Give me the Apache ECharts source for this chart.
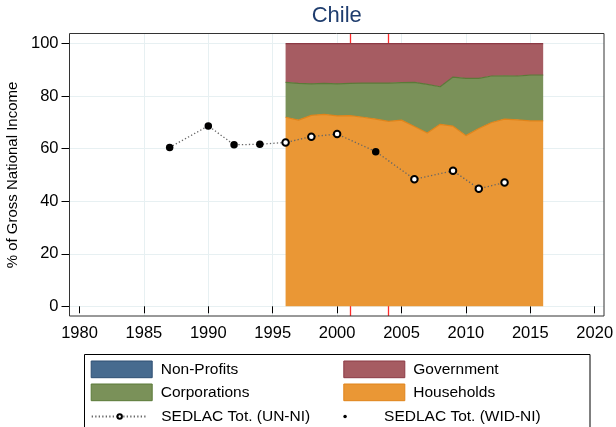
<!DOCTYPE html>
<html>
<head>
<meta charset="utf-8">
<script src="https://cdn.jsdelivr.net/npm/echarts@6/dist/echarts.min.js"></script>
<style>
  html, body { margin: 0; padding: 0; background: #fff; }
  #chart { width: 616px; height: 427px; }
</style>
</head>
<body>
<div id="chart"></div>
<script>
// Sector shares of gross national income, Chile (%)
const years = [1996, 1997, 1998, 1999, 2000, 2001, 2002, 2003, 2004, 2005, 2006,
               2007, 2008, 2009, 2010, 2011, 2012, 2013, 2014, 2015, 2016];
const households   = [72.0, 70.9, 72.7, 73.1, 72.5, 72.6, 72.0, 71.3, 70.4, 70.9, 68.5,
                      66.0, 69.3, 68.6, 65.0, 67.7, 70.0, 71.3, 71.0, 70.6, 70.6];
const nonProfits   = [0, 0, 0, 0, 0, 0, 0, 0, 0, 0, 0,
                      0, 0, 0, 0, 0, 0, 0, 0, 0, 0];
const corporations = [13.3, 14.0, 12.0, 11.8, 12.2, 12.3, 13.0, 13.7, 14.6, 14.3, 16.8,
                      18.5, 14.3, 18.7, 21.8, 19.1, 17.7, 16.5, 16.7, 17.4, 17.4];
const government   = [14.7, 15.1, 15.3, 15.1, 15.3, 15.1, 15.0, 15.0, 15.0, 14.8, 14.7,
                      15.5, 16.4, 12.7, 13.2, 13.2, 12.3, 12.2, 12.3, 12.0, 12.0];

// SEDLAC survey totals and the national-income source used for each year
const sedlacYears  = [1987, 1990, 1992, 1994, 1996, 1998, 2000, 2003, 2006, 2009, 2011, 2013];
const sedlacTotal  = [60.5, 68.7, 61.5, 61.7, 62.4, 64.6, 65.6, 58.9, 48.4, 51.6, 44.8, 47.1];
const sedlacSource = ['WID', 'WID', 'WID', 'WID', 'UN', 'UN', 'UN', 'WID', 'UN', 'UN', 'UN', 'UN'];

// Marked years (vertical reference lines)
const refYears = [2001, 2004];

// Axis ticks
const xMin = 1980, xMax = 2020, xStep = 5;
const yMin = 0, yMax = 100, yStep = 20;

const FONT = '"Liberation Sans", Arial, Helvetica, sans-serif';

const colors = {
  nonProfits:   { fill: '#476b8f', edge: '#2e4f73' },
  government:   { fill: '#a65c62', edge: '#8c3a45' },
  corporations: { fill: '#7a9159', edge: '#5b7a38' },
  households:   { fill: '#ea9735', edge: '#e0841a' }
};

// Rows are [share, year] so the share dimension is the one that gets stacked
function areaSeries(name, values, c, hideLine) {
  return {
    name: name,
    type: 'line',
    stack: 'sectors',
    xAxisIndex: 0,
    yAxisIndex: 0,
    dimensions: ['share', 'year'],
    encode: { x: 'year', y: 'share' },
    data: years.map((y, i) => [values[i], y]),
    symbol: 'none',
    color: c.fill,
    lineStyle: { color: c.edge, width: 1.2, opacity: hideLine ? 0 : 1 },
    areaStyle: { color: c.fill, opacity: 1 },
    itemStyle: { color: c.fill, borderColor: c.edge, borderWidth: 1 },
    z: 3
  };
}

const chart = echarts.init(document.getElementById('chart'), null, { renderer: 'canvas' });

const legendBase = {
  orient: 'vertical',
  padding: 0,
  selectedMode: false,
  textStyle: { fontSize: 15.5, color: '#000', fontFamily: FONT, padding: [0, 0, 0, 3.5] }
};

chart.setOption({
  animation: false,
  backgroundColor: '#fff',
  grid: [
    { left: 79.5, right: 21.3, top: 43.7, bottom: 120.7, outerBoundsMode: 'none' },
    { left: 69.5, right: 12, top: 43.7, bottom: 120.7, outerBoundsMode: 'none' },
    { left: 79.5, right: 21.3, top: 33.5, bottom: 111, outerBoundsMode: 'none' }
  ],
  xAxis: [
    {
      gridIndex: 0, type: 'value', min: xMin, max: xMax, interval: xStep, offset: 9.7,
      axisLine: { show: false },
      axisTick: { show: true, length: 7, lineStyle: { color: '#000', width: 1 } },
      axisLabel: { show: true, fontSize: 16.5, color: '#000', fontFamily: FONT, margin: 9,
                   showMinLabel: true, showMaxLabel: true, hideOverlap: false,
                   formatter: v => String(v) },
      splitLine: { show: false }
    },
    { gridIndex: 1, type: 'value', min: 0, max: 1, show: false },
    {
      gridIndex: 2, type: 'value', min: xMin, max: xMax, interval: xStep,
      axisLine: { show: false }, axisTick: { show: false }, axisLabel: { show: false },
      splitLine: { show: true, showMinLine: false, showMaxLine: false,
                   lineStyle: { color: '#e7f0f2', width: 1 } }
    }
  ],
  yAxis: [
    {
      gridIndex: 0, type: 'value', min: yMin, max: yMax, interval: yStep, offset: 10,
      axisLine: { show: false },
      axisTick: { show: true, length: 8, lineStyle: { color: '#000', width: 1 } },
      axisLabel: { show: true, fontSize: 16.5, color: '#000', fontFamily: FONT, margin: 11,
                   showMinLabel: true, showMaxLabel: true, hideOverlap: false,
                   formatter: v => String(v) },
      splitLine: { show: false },
      name: '% of Gross National Income',
      nameLocation: 'middle',
      nameGap: 38,
      nameTextStyle: { fontSize: 15, color: '#000', fontFamily: FONT }
    },
    {
      gridIndex: 1, type: 'value', min: yMin, max: yMax, interval: yStep,
      axisLine: { show: false }, axisTick: { show: false }, axisLabel: { show: false },
      splitLine: { show: true, lineStyle: { color: '#e7f0f2', width: 1 } }
    },
    { gridIndex: 2, type: 'value', min: 0, max: 1, show: false }
  ],
  legend: [
    Object.assign({}, legendBase, {
      left: 90.7, top: 360.5, itemWidth: 61, itemHeight: 16.7, itemGap: 5.3, icon: 'rect',
      data: [
        { name: 'Non-Profits', itemStyle: { color: colors.nonProfits.fill, borderColor: colors.nonProfits.edge, borderWidth: 1 } },
        { name: 'Corporations', itemStyle: { color: colors.corporations.fill, borderColor: colors.corporations.edge, borderWidth: 1 } }
      ]
    }),
    Object.assign({}, legendBase, {
      left: 343.3, top: 360.5, itemWidth: 61, itemHeight: 16.7, itemGap: 5.3, icon: 'rect',
      data: [
        { name: 'Government', itemStyle: { color: colors.government.fill, borderColor: colors.government.edge, borderWidth: 1 } },
        { name: 'Households', itemStyle: { color: colors.households.fill, borderColor: colors.households.edge, borderWidth: 1 } }
      ]
    }),
    Object.assign({}, legendBase, {
      left: 90.7, top: 408.5, itemWidth: 56, itemHeight: 5.5,
      textStyle: { fontSize: 15.5, color: '#000', fontFamily: FONT, padding: [0, 0, 0, 8.5] },
      data: ['SEDLAC Tot. (UN-NI)']
    }),
    Object.assign({}, legendBase, {
      left: 343.3, top: 408.5, itemWidth: 61, itemHeight: 3.5, icon: 'circle',
      data: [{ name: 'SEDLAC Tot. (WID-NI)', itemStyle: { color: '#000' } }]
    })
  ],
  graphic: [
    {
      type: 'text', x: 336.7, y: 5, z: 100,
      style: { text: 'Chile', fill: '#1f3d6e', font: '22px ' + FONT, textAlign: 'center' }
    },
    {
      type: 'rect', z: 100, silent: true,
      shape: { x: 69.5, y: 33.5, width: 534.5, height: 282.5 },
      style: { fill: 'none', stroke: '#333', lineWidth: 1 }
    },
    {
      type: 'rect', z: 100, silent: true,
      shape: { x: 84.5, y: 354.5, width: 505.5, height: 100 },
      style: { fill: 'none', stroke: '#000', lineWidth: 1 }
    }
  ],
  series: [
    // reference years, drawn full-height behind the sector areas
    {
      name: 'reference years', type: 'line', xAxisIndex: 2, yAxisIndex: 2, data: [],
      z: 1, silent: true,
      markLine: {
        z: 1,
        symbol: 'none', silent: true, label: { show: false },
        lineStyle: { color: '#ff2a2a', width: 1.3, type: 'solid' },
        emphasis: { disabled: true },
        data: refYears.map(y => ({ xAxis: y }))
      }
    },
    areaSeries('Households', households, colors.households, false),
    areaSeries('Non-Profits', nonProfits, colors.nonProfits, true),
    areaSeries('Corporations', corporations, colors.corporations, false),
    areaSeries('Government', government, colors.government, false),
    {
      name: 'SEDLAC Tot. (UN-NI)', type: 'line', xAxisIndex: 0, yAxisIndex: 0, z: 5,
      data: sedlacYears.map((y, i) => ({
        value: [y, sedlacTotal[i]],
        symbol: sedlacSource[i] === 'UN' ? 'emptyCircle' : 'none'
      })),
      symbol: 'emptyCircle', symbolSize: 6.5, showAllSymbol: true,
      color: '#000',
      itemStyle: { color: '#000', borderColor: '#000', borderWidth: 1.2 },
      lineStyle: { color: '#666', width: 1.3, type: [1.3, 2.2] }
    },
    {
      name: 'SEDLAC Tot. (WID-NI)', type: 'scatter', xAxisIndex: 0, yAxisIndex: 0, z: 6,
      data: sedlacYears.map((y, i) => [y, sedlacTotal[i]]).filter((d, i) => sedlacSource[i] === 'WID'),
      symbol: 'circle', symbolSize: 7.5,
      itemStyle: { color: '#000', opacity: 1 }
    }
  ]
});
</script>
</body>
</html>
